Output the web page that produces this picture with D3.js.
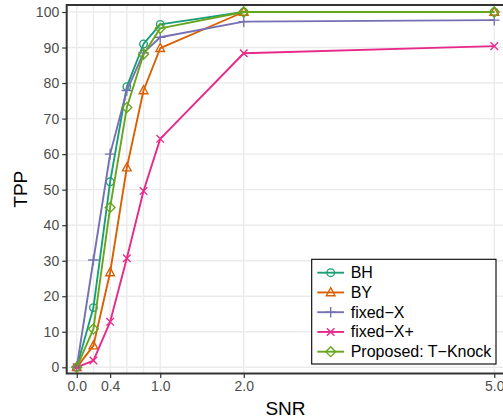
<!DOCTYPE html>
<html>
<head>
<meta charset="utf-8">
<script src="https://cdn.jsdelivr.net/npm/d3@7"></script>
<style>
  html, body { margin: 0; padding: 0; background: #fff; }
  svg { display: block; font-family: "Liberation Sans", Arial, sans-serif; }
</style>
</head>
<body>
<svg id="chart" width="503" height="420"></svg>
<script>
// SNR levels evaluated
const snr = [0, 0.2, 0.4, 0.6, 0.8, 1.0, 2.0, 5.0];
const xTickValues = [0, 0.4, 1.0, 2.0, 5.0];
const yTickValues = [0, 10, 20, 30, 40, 50, 60, 70, 80, 90, 100];

// True positive proportion (%) per method
const methods = ["BH", "BY", "fixed\u2212X", "fixed\u2212X+", "Proposed: T\u2212Knock"];
const tppBH     = [0, 16.8, 52.2, 79.0, 91.0, 96.5, 100, 100];
const tppBY     = [0, 6.1, 26.7, 56.2, 77.9, 89.8, 100, 100];
const tppFixed  = [0, 30.2, 60.0, 77.9, 88.5, 92.9, 97.3, 97.7];
const tppFixedP = [0, 1.9, 12.8, 30.7, 49.6, 64.3, 88.4, 90.4];
const tppTKnock = [0, 10.8, 45.0, 73.1, 88.1, 95.4, 100, 100];
const seriesValues = [tppBH, tppBY, tppFixed, tppFixedP, tppTKnock];

const colors = ["#1B9E77", "#D95F02", "#7570B3", "#E7298A", "#66A61E"];
const shapes = ["circle", "triangle", "plus", "cross", "diamond"];

const svg = d3.select("#chart");
const pLeft = 66.7, pRight = 504.3, pTop = 5, pBottom = 373.5;

const x = d3.scaleLinear().domain([-0.12, 5.12]).range([pLeft, pRight]);
const y = d3.scaleLinear().domain([-1.745, 101.97]).range([pBottom, pTop]);

// panel grid
const grid = svg.append("g");
grid.selectAll("line.gx").data(snr).join("line")
  .attr("x1", d => x(d)).attr("x2", d => x(d))
  .attr("y1", pTop).attr("y2", pBottom)
  .attr("stroke", "#EBEBEB").attr("stroke-width", 1.4);
grid.selectAll("line.gy").data(yTickValues).join("line")
  .attr("x1", pLeft).attr("x2", pRight)
  .attr("y1", d => y(d)).attr("y2", d => y(d))
  .attr("stroke", "#EBEBEB").attr("stroke-width", 1.4);

// markers
function drawMarker(g, shape, cx, cy, color) {
  const s = 3.8;
  const sw = 1.35;
  if (shape === "circle") {
    g.append("circle").attr("cx", cx).attr("cy", cy).attr("r", s)
      .attr("fill", "none").attr("stroke", color).attr("stroke-width", sw);
  } else if (shape === "triangle") {
    const h = s * 1.15;
    g.append("path")
      .attr("d", `M${cx},${cy - h * 1.1}L${cx + h},${cy + h * 0.75}L${cx - h},${cy + h * 0.75}Z`)
      .attr("fill", "none").attr("stroke", color).attr("stroke-width", sw);
  } else if (shape === "plus") {
    const a = s * 1.4;
    g.append("path")
      .attr("d", `M${cx - a},${cy}L${cx + a},${cy}M${cx},${cy - a}L${cx},${cy + a}`)
      .attr("stroke", color).attr("stroke-width", sw);
  } else if (shape === "cross") {
    const a = s;
    g.append("path")
      .attr("d", `M${cx - a},${cy - a}L${cx + a},${cy + a}M${cx - a},${cy + a}L${cx + a},${cy - a}`)
      .attr("stroke", color).attr("stroke-width", sw);
  } else if (shape === "diamond") {
    const a = s * 1.3;
    g.append("path")
      .attr("d", `M${cx},${cy - a}L${cx + a},${cy}L${cx},${cy + a}L${cx - a},${cy}Z`)
      .attr("fill", "none").attr("stroke", color).attr("stroke-width", sw);
  }
}

// series
const line = d3.line().x(d => x(d[0])).y(d => y(d[1]));
const plot = svg.append("g");
seriesValues.forEach((vals, i) => {
  const pts = snr.map((s, j) => [s, vals[j]]);
  const g = plot.append("g");
  g.append("path").attr("d", line(pts))
    .attr("fill", "none").attr("stroke", colors[i])
    .attr("stroke-width", 1.9).attr("stroke-linejoin", "round");
  pts.forEach(p => drawMarker(g, shapes[i], x(p[0]), y(p[1]), colors[i]));
});

// panel frame
svg.append("rect").attr("x", pLeft).attr("y", pTop)
  .attr("width", pRight - pLeft).attr("height", pBottom - pTop)
  .attr("fill", "none").attr("stroke", "#333").attr("stroke-width", 2);

// axes
const xAxis = svg.append("g").attr("transform", `translate(0,${pBottom})`)
  .call(d3.axisBottom(x).tickValues(xTickValues).tickFormat(d3.format(".1f")).tickSize(4.5).tickPadding(3));
const yAxis = svg.append("g").attr("transform", `translate(${pLeft},0)`)
  .call(d3.axisLeft(y).tickValues(yTickValues).tickSize(4.5).tickPadding(3));
[xAxis, yAxis].forEach(a => {
  a.select(".domain").remove();
  a.selectAll(".tick line").attr("stroke", "#333").attr("stroke-width", 1.2);
  a.selectAll(".tick text").attr("fill", "#4D4D4D")
    .style("font-size", "14px").style("font-family", "'Liberation Sans', Arial, sans-serif");
});

// axis titles
svg.append("text").attr("x", (pLeft + pRight) / 2).attr("y", 415)
  .attr("text-anchor", "middle").style("font-size", "19px").attr("fill", "#000").text("SNR");
svg.append("text").attr("transform", `translate(27,${(pTop + pBottom) / 2}) rotate(-90)`)
  .attr("text-anchor", "middle").style("font-size", "19px").attr("fill", "#000").text("TPP");

// legend
const lg = svg.append("g");
lg.append("rect").attr("x", 311.7).attr("y", 259.3).attr("width", 184.3).attr("height", 104.7)
  .attr("fill", "#fff").attr("stroke", "#000").attr("stroke-width", 1.1);
methods.forEach((m, i) => {
  const cy = 272.7 + i * 19.75;
  lg.append("line").attr("x1", 317.3).attr("x2", 344).attr("y1", cy).attr("y2", cy)
    .attr("stroke", colors[i]).attr("stroke-width", 1.9);
  drawMarker(lg, shapes[i], 330.7, cy, colors[i]);
  lg.append("text").attr("x", 350.7).attr("y", cy + 5.5)
    .style("font-size", "16px").attr("fill", "#000").text(m);
});
</script>
</body>
</html>
